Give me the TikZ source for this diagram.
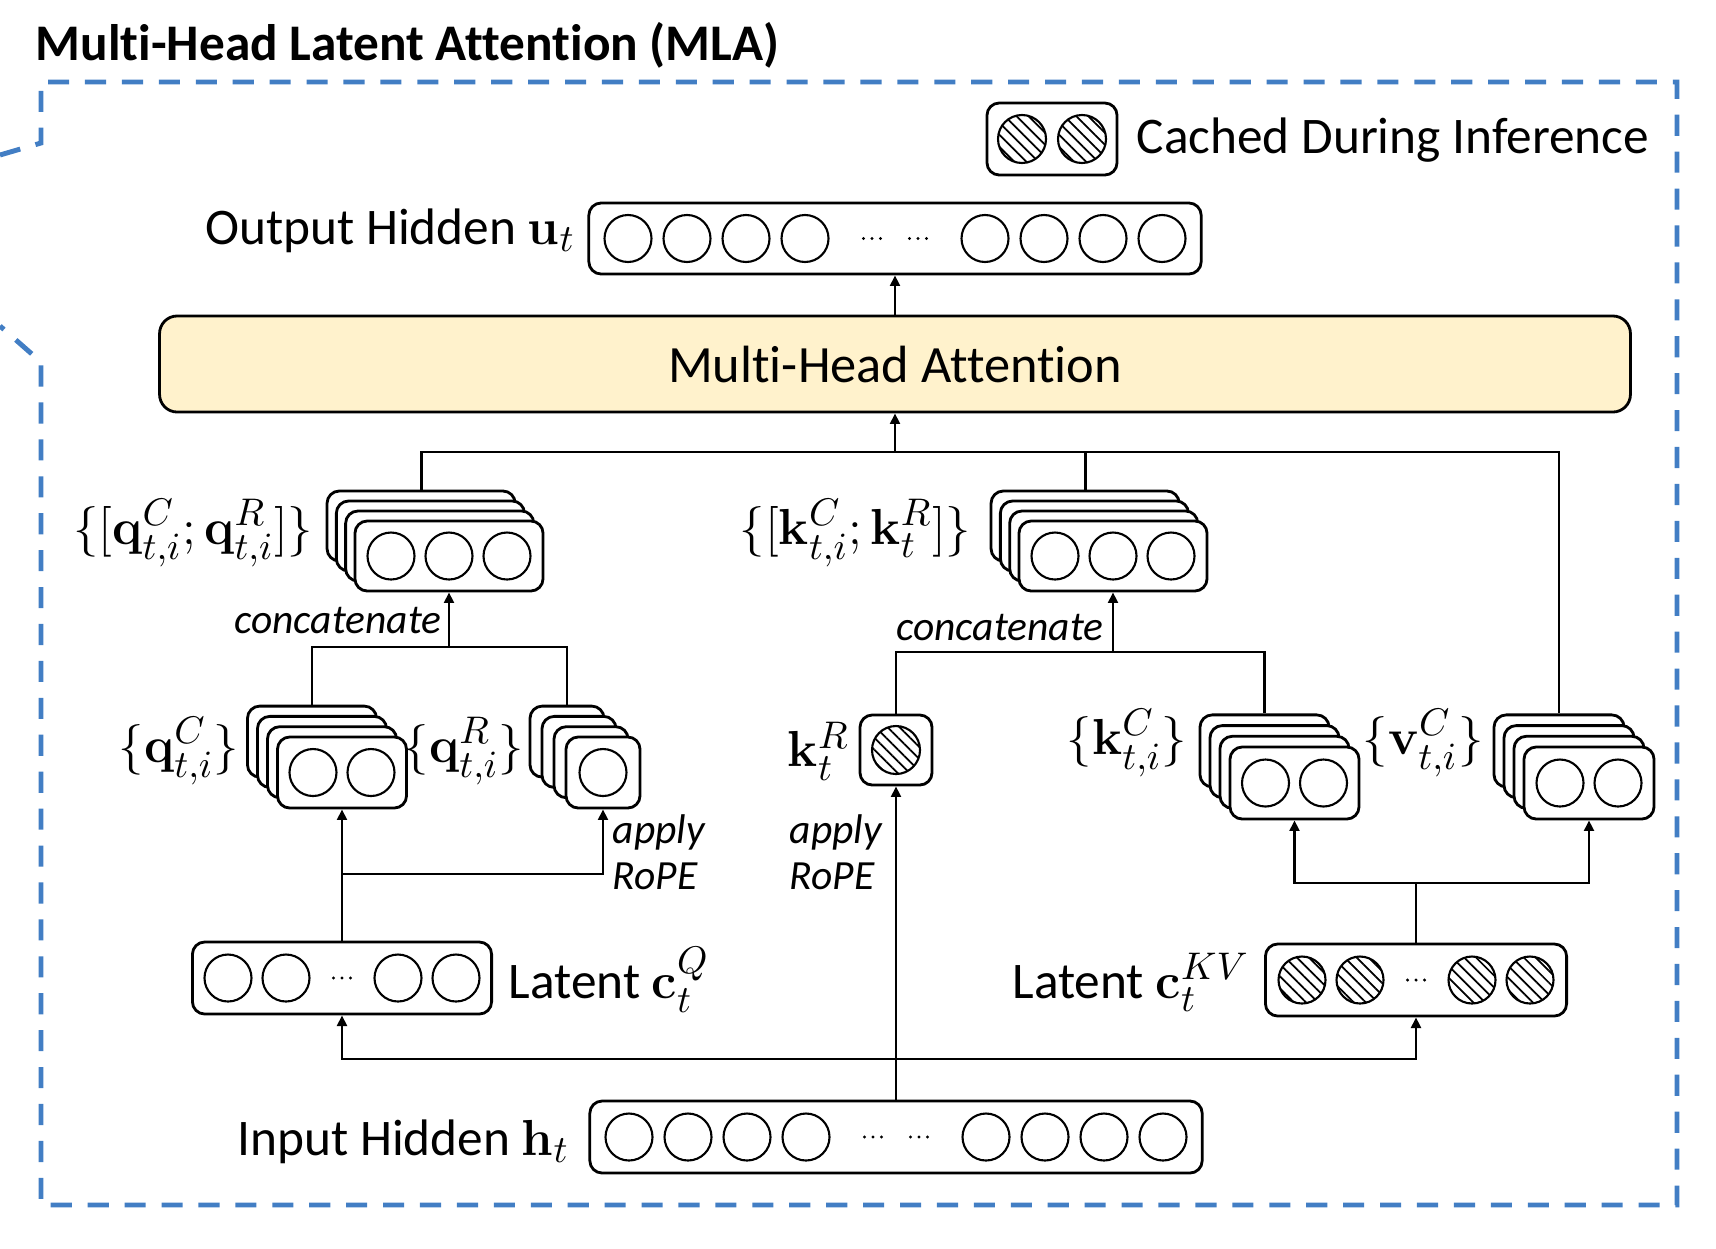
\documentclass[tikz,border=0pt]{standalone}
\usepackage{amsmath}
\usepackage[no-math]{fontspec}
\setmainfont{Carlito}[Ligatures=NoCommon]
\usepackage{xcolor}
\usepackage{tikz}
\usetikzlibrary{arrows.meta}
\usetikzlibrary{patterns.meta}
\definecolor{mlablue}{RGB}{66,126,196}
\definecolor{mhafill}{RGB}{255,242,204}
\newcommand{\fs}{\fontsize{14.6}{17}\selectfont}
\newcommand{\ms}{\fontsize{15.4}{18}\selectfont}

\begin{document}
\begin{tikzpicture}[x=0.01cm,y=-0.01cm,
  vec/.style={draw,line width=0.8pt,rounded corners=3.5pt,fill=white,inner sep=0pt},
  unit/.style={line width=0.6pt},
  cached/.style={unit,pattern={Lines[angle=-45,distance=2.4pt,line width=0.5pt]}},
  wire/.style={line width=0.8pt},
  arr/.style={line width=0.8pt,-{Triangle[length=3pt,width=2.8pt]}},
  frame/.style={draw=mlablue,line width=1.4pt,dash pattern=on 6pt off 4.5pt},
  lbl/.style={inner sep=0pt,font=\fs},
  head/.style={inner sep=0pt,font=\ms},
  note/.style={inner sep=0pt,font=\fontsize{11.8}{13.1}\selectfont\itshape,align=left}]
\useasboundingbox (0,0) rectangle (1716,1248);
% frame
\draw[frame] (0,155) -- (41,143) -- (41,82) -- (1677,82) -- (1677,1205) -- (41,1205) -- (41,362) -- (0,326);
\node[lbl,font=\fs\bfseries,anchor=base west] (title) at (35,60) {Multi-Head Latent Attention (MLA)};
% legend
\node[vec,minimum width=1.30cm,minimum height=0.72cm] (legend) at (1052,139) {};
\foreach \dx in {-30,30}
    \draw[cached] (1052+\dx,139) circle (24);
\node[lbl,anchor=base west] (legendtxt) at (1136,153) {Cached During Inference};
% output and input hidden
\node[vec,minimum width=6.12cm,minimum height=0.71cm] (out) at (895,238.5) {};
\node[vec,minimum width=6.12cm,minimum height=0.72cm] (inp) at (896,1137) {};
\foreach \y/\cx in {238.5/895,1137/896}
{
    \foreach \dx in {-267,-208,-149,-90,90,149,208,267}
        \draw[unit] (\cx+\dx,\y) circle (23.5);
    \foreach \g in {-23,23}
        \foreach \d in {-8.5,0,8.5}
            \fill (\cx+\g+\d,\y) circle (1.7);
}
\node[lbl,anchor=base east] (outtxt) at (576,244) {Output Hidden {\ms$\mathbf{u}_t$}};
\node[lbl,anchor=base east] (inptxt) at (570,1155) {Input Hidden {\ms$\mathbf{h}_t$}};
% attention
\node[draw,line width=0.8pt,rounded corners=5pt,fill=mhafill,minimum width=14.70cm,minimum height=0.96cm,font=\fontsize{14.9}{17}\selectfont] (mha) at (895,364) {Multi-Head Attention};
% latent vectors
\node[vec,minimum width=2.99cm,minimum height=0.72cm] (cQ) at (342,978) {};
\node[vec,minimum width=3.01cm,minimum height=0.72cm] (cKV) at (1416,980) {};
\foreach \dx in {-114,-56,56,114}
{
    \draw[unit] (342+\dx,978) circle (23.5);
    \draw[cached] (1416+\dx,980) circle (23.5);
}
\foreach \d in {-8.5,0,8.5}
{
    \fill (342+\d,978) circle (1.7);
    \fill (1416+\d,980) circle (1.7);
}
\node[lbl,anchor=base west] (cQtxt) at (508,998) {Latent {\ms$\mathbf{c}_t^{Q}$}};
\node[lbl,anchor=base east] (cKVtxt) at (1250,998) {Latent {\ms$\mathbf{c}_t^{KV}$}};
% stacks of heads
\foreach \k in {0,...,3}
{
    \node[vec,minimum width=1.88cm,minimum height=0.70cm] (qcat\k) at ({449-(3-\k)*9.3},{556-(3-\k)*10}) {};
    \node[vec,minimum width=1.88cm,minimum height=0.70cm] (kcat\k) at ({1113-(3-\k)*9.3},{556-(3-\k)*10}) {};
    \node[vec,minimum width=1.29cm,minimum height=0.71cm] (qC\k) at ({342-(3-\k)*10},{772.5-(3-\k)*10.3}) {};
    \node[vec,minimum width=0.74cm,minimum height=0.71cm] (qR\k) at ({603-(3-\k)*12},{772.5-(3-\k)*10.3}) {};
    \node[vec,minimum width=1.29cm,minimum height=0.72cm] (kC\k) at ({1294.5-(3-\k)*10},{783-(3-\k)*10.7}) {};
    \node[vec,minimum width=1.30cm,minimum height=0.72cm] (vC\k) at ({1589-(3-\k)*10},{783-(3-\k)*10.7}) {};
}
\foreach \dx in {-58,0,58}
{
    \draw[unit] (449+\dx,556) circle (23.5);
    \draw[unit] (1113+\dx,556) circle (23.5);
}
\foreach \dx in {-29,29}
{
    \draw[unit] (342+\dx,772.5) circle (23.5);
    \draw[unit] (1294.5+\dx,783) circle (23.5);
    \draw[unit] (1589+\dx,783) circle (23.5);
}
\draw[unit] (603,772.5) circle (23.5);
\node[vec,minimum width=0.72cm,minimum height=0.70cm] (kR) at (896,750) {};
\draw[cached] (896,750) circle (24);
% head labels
\node[head,anchor=east] (qcattxt) at (314,533) {$\{[\mathbf{q}_{t,i}^{C};\mathbf{q}_{t,i}^{R}]\}$};
\node[head,anchor=east] (kcattxt) at (972,533) {$\{[\mathbf{k}_{t,i}^{C};\mathbf{k}_{t}^{R}]\}$};
\node[head,anchor=east] (qCtxt) at (240,751) {$\{\mathbf{q}_{t,i}^{C}\}$};
\node[head,anchor=east] (qRtxt) at (525,751) {$\{\mathbf{q}_{t,i}^{R}\}$};
\node[head,anchor=east] (kRtxt) at (850,751) {$\mathbf{k}_{t}^{R}$};
\node[head,anchor=east] (kCtxt) at (1188,743) {$\{\mathbf{k}_{t,i}^{C}\}$};
\node[head,anchor=east] (vCtxt) at (1484,743) {$\{\mathbf{v}_{t,i}^{C}\}$};
\node[note,anchor=base east] (qcon) at (442,633) {concatenate};
\node[note,anchor=base east] (kcon) at (1104,640) {concatenate};
\node[note,anchor=west] (qrope) at (612,852) {apply\\RoPE};
\node[note,anchor=west] (krope) at (789,852) {apply\\RoPE};
% connectors
\coordinate (busM) at (895,452);
\coordinate (qjoin) at (449,647);
\coordinate (kjoin) at (1113,652);
\coordinate (qsplit) at (342,874);
\coordinate (kvsplit) at (1416,883);
\coordinate (hsplit) at (896,1059);
\draw[arr] (mha.north) -- (out.south);
\draw[arr] (busM) -- (mha.south);
\draw[wire] (qcat0.north) |- (busM) -| (vC0.north);
\draw[wire] (kcat0.north) -- (kcat0.north |- busM);
\draw[arr] (qjoin) -- (qcat3.south);
\draw[wire] (qC0.north) |- (qjoin) -| (qR0.north);
\draw[arr] (kjoin) -- (kcat3.south);
\draw[wire] (kR.north) |- (kjoin) -| (kC0.north);
\draw[arr] (cQ.north) -- (qC3.south);
\draw[arr] (qsplit) -| (qR3.south);
\draw[wire] (cKV.north) -- (kvsplit);
\draw[arr] (kvsplit) -| (kC3.south);
\draw[arr] (kvsplit) -| (vC3.south);
\draw[arr] (inp.north) -- (kR.south);
\draw[arr] (hsplit) -| (cQ.south);
\draw[arr] (hsplit) -| (cKV.south);
\end{tikzpicture}
\end{document}
